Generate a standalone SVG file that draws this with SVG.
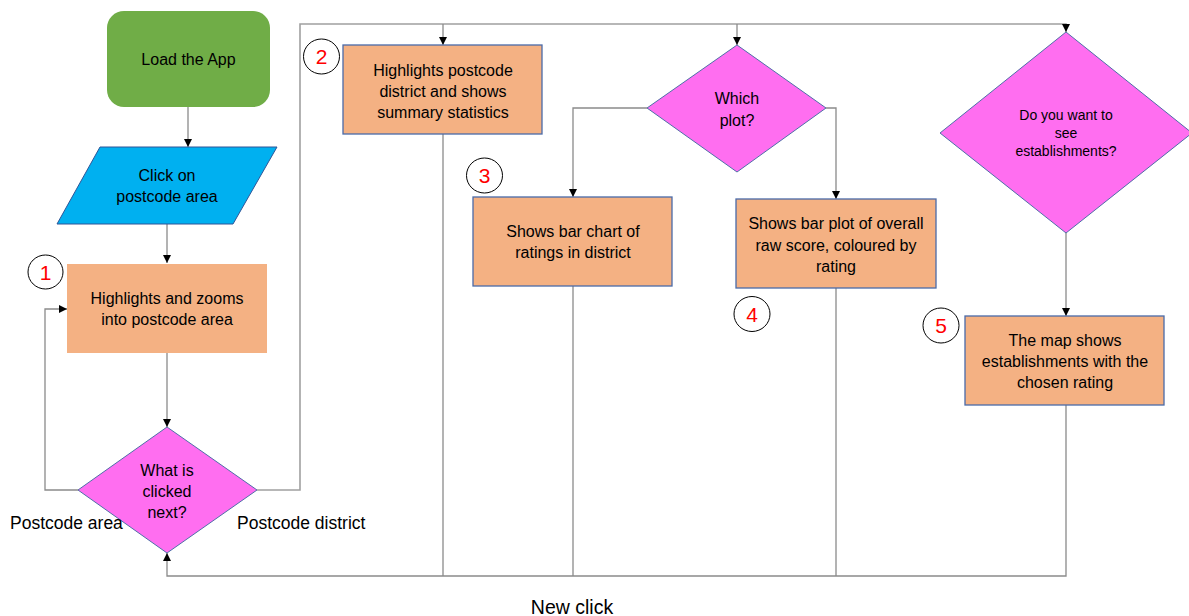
<svg xmlns="http://www.w3.org/2000/svg" width="1189" height="616" viewBox="0 0 1189 616">
<style>
.t{font-family:"Liberation Sans",Arial,sans-serif;font-size:16px;fill:#000;text-anchor:middle}
.s{font-family:"Liberation Sans",Arial,sans-serif;font-size:14px;fill:#000;text-anchor:middle}
.lab{font-family:"Liberation Sans",Arial,sans-serif;font-size:17.5px;fill:#000}
.num{font-family:"Liberation Sans",Arial,sans-serif;font-size:21px;fill:#FF0000;text-anchor:middle}
.box{fill:#F4B183;stroke:#4A6AA8;stroke-width:1.3}
.dia{fill:#FF6EF0;stroke:#4F6FA8;stroke-width:1}
.circ{fill:#fff;stroke:#000;stroke-width:1}
.c{fill:none;stroke:#8A8A8A;stroke-width:1.3}
</style>
<defs>
<marker id="ah" viewBox="0 0 10 10" refX="10" refY="5" markerWidth="8" markerHeight="8" markerUnits="userSpaceOnUse" orient="auto">
<path d="M0,0 L10,5 L0,10 z" fill="#000"/>
</marker>
</defs>
<rect width="1189" height="616" fill="#fff"/>
<g id="connectors">
<path class="c" d="M188,107 V147" marker-end="url(#ah)"/>
<path class="c" d="M167,224 V263" marker-end="url(#ah)"/>
<path class="c" d="M167,353 V427" marker-end="url(#ah)"/>
<path class="c" d="M78,490 H45 V309 H67" marker-end="url(#ah)"/>
<path class="c" d="M257,490 H300 V24 H1066 V32" marker-end="url(#ah)" style="stroke:#A0A0A0;stroke-width:1.6"/>
<path class="c" d="M443,24 V45" marker-end="url(#ah)"/>
<path class="c" d="M737,24 V45" marker-end="url(#ah)"/>
<path class="c" d="M647,108 H573 V197" marker-end="url(#ah)"/>
<path class="c" d="M826,108 H836 V199" marker-end="url(#ah)"/>
<path class="c" d="M1066,233 V316" marker-end="url(#ah)"/>
<path class="c" d="M443,134 V576"/>
<path class="c" d="M573,286 V576"/>
<path class="c" d="M836,288 V576"/>
<path class="c" d="M1066,405 V576 H167 V553" marker-end="url(#ah)"/>
</g>
<g id="start">
<rect x="107" y="11" width="163" height="96" rx="17" fill="#70AD47"/>
<text class="t" x="188.5" y="65">Load the App</text>
</g>
<g id="click-area">
<polygon points="100,147 277,147 233,224 57,224" fill="#00B0F0" stroke="#2F5597" stroke-width="1"/>
<text class="t" x="167" y="181">Click on</text>
<text class="t" x="167" y="202">postcode area</text>
</g>
<g id="step1">
<rect x="67" y="264" width="200" height="89" fill="#F4B183"/>
<text class="t" x="167" y="304">Highlights and zooms</text>
<text class="t" x="167" y="325">into postcode area</text>
<ellipse class="circ" cx="45.5" cy="272" rx="17.5" ry="17"/>
<text class="num" x="45.5" y="279.5">1</text>
</g>
<g id="decision-clicked">
<polygon class="dia" points="167,427 257,490 167,553 78,490"/>
<text class="t" x="167" y="476">What is</text>
<text class="t" x="167" y="497">clicked</text>
<text class="t" x="167" y="518">next?</text>
</g>
<text class="lab" x="10" y="529">Postcode area</text>
<text class="lab" x="237" y="529">Postcode district</text>
<g id="step2">
<rect class="box" x="343" y="45" width="199" height="89"/>
<text class="t" x="443" y="76">Highlights postcode</text>
<text class="t" x="443" y="97">district and shows</text>
<text class="t" x="443" y="118">summary statistics</text>
<ellipse class="circ" cx="321.5" cy="56.5" rx="18" ry="17.5"/>
<text class="num" x="321.5" y="64">2</text>
</g>
<g id="decision-plot">
<polygon class="dia" points="737,45 826,108 737,172 647,108"/>
<text class="t" x="737" y="104">Which</text>
<text class="t" x="737" y="126">plot?</text>
</g>
<g id="step3">
<rect class="box" x="473" y="197" width="199" height="89"/>
<text class="t" x="573" y="237">Shows bar chart of</text>
<text class="t" x="573" y="258">ratings in district</text>
<ellipse class="circ" cx="484.5" cy="175.5" rx="18" ry="17.5"/>
<text class="num" x="484.5" y="183">3</text>
</g>
<g id="step4">
<rect class="box" x="736" y="199" width="200" height="89"/>
<text class="t" x="836" y="229">Shows bar plot of overall</text>
<text class="t" x="836" y="251">raw score, coloured by</text>
<text class="t" x="836" y="272">rating</text>
<ellipse class="circ" cx="752" cy="314" rx="18" ry="17.5"/>
<text class="num" x="752" y="321.5">4</text>
</g>
<g id="decision-establishments">
<polygon class="dia" points="1066,32 1192,133 1066,233 940,133"/>
<text class="s" x="1066" y="120">Do you want to</text>
<text class="s" x="1066" y="138">see</text>
<text class="s" x="1066" y="156">establishments?</text>
</g>
<g id="step5">
<rect class="box" x="965" y="316" width="199" height="89"/>
<text class="t" x="1065" y="346">The map shows</text>
<text class="t" x="1065" y="367">establishments with the</text>
<text class="t" x="1065" y="388">chosen rating</text>
<ellipse class="circ" cx="941" cy="325.5" rx="18" ry="17.5"/>
<text class="num" x="941" y="333">5</text>
</g>
<text class="lab" x="572" y="614" style="text-anchor:middle;font-size:19.5px">New click</text>
</svg>
